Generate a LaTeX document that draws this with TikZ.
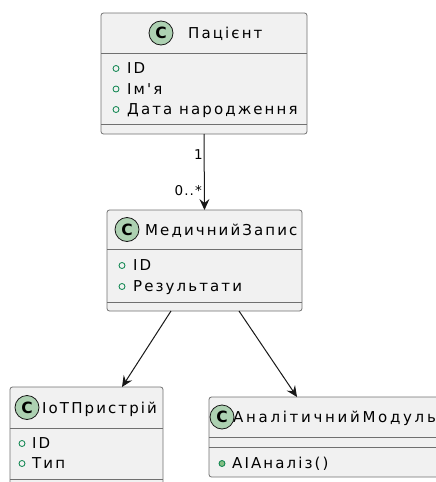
\documentclass[tikz,border=0pt]{standalone}
\usepackage{fontspec}
\setmainfont{DejaVu Sans}
\newfontfamily\umlfont[LetterSpace=14]{DejaVu Sans}
\newfontfamily\widefont[LetterSpace=18]{DejaVu Sans}
\newfontfamily\multfont[LetterSpace=8]{DejaVu Sans}
\usetikzlibrary{arrows.meta,calc}
\definecolor{boxfill}{HTML}{F1F1F1}
\definecolor{boxline}{HTML}{707070}
\definecolor{badge}{HTML}{ADD1B2}
\definecolor{markgreen}{HTML}{038048}
\definecolor{markfill}{HTML}{84BE84}
\definecolor{linkcol}{HTML}{181818}
\newcommand{\cname}{\umlfont\fontsize{15}{17}\selectfont}
\newcommand{\wname}{\widefont\fontsize{15}{17}\selectfont}
\newcommand{\mname}{\multfont\fontsize{13.5}{15}\selectfont}
\begin{document}
\begin{tikzpicture}[x=1pt,y=-1pt,
  classbox/.style={draw=boxline, fill=boxfill, line width=0.8pt, rounded corners=2.5pt,
    anchor=north west, inner sep=0pt, outer sep=0pt},
  sep/.style={draw=boxline, line width=0.8pt},
  badgec/.style={circle, draw=linkcol, fill=badge, line width=0.8pt, minimum size=24pt,
    inner sep=0pt, font=\bfseries\fontsize{15.5}{15.5}\selectfont},
  title/.style={anchor=base west, inner sep=0pt, font=\cname},
  attr/.style={anchor=base west, inner sep=0pt, font=\cname},
  field/.style={circle, draw=markgreen, line width=0.8pt, minimum size=6pt, inner sep=0pt},
  method/.style={field, fill=markfill},
  link/.style={draw=linkcol, line width=1pt, -{Stealth[length=11pt,width=10pt,inset=4pt]}},
  mult/.style={anchor=base east, inner sep=0pt, font=\mname}
]
\useasboundingbox (0,0) rectangle (436,482);
\clip (0,0) rectangle (436,482);

% Пацієнт
\node[classbox, minimum width=206pt, minimum height=121pt] (pac) at (101,13) {};
\draw[sep] (101,53) -- (307,53);
\draw[sep] (101,124) -- (307,124);
\node[badgec] (pacC) at (161,33) {C};
\node[title] (pacT) at (188,38.5) {Пацієнт};
\node[field] (pacm1) at (116,68.5) {};
\node[attr] (paca1) at (127,73.5) {ID};
\node[field] (pacm2) at (116,89) {};
\node[attr] (paca2) at (127,94) {Ім'я};
\node[field] (pacm3) at (116,109.5) {};
\node[attr] (paca3) at (127,114.5) {Дата народження};

% МедичнийЗапис
\node[classbox, minimum width=195pt, minimum height=101pt] (mz) at (107,210) {};
\draw[sep] (107,249) -- (302,249);
\draw[sep] (107,302) -- (302,302);
\node[badgec] (mzC) at (127,229.5) {C};
\node[title] (mzT) at (145,235) {МедичнийЗапис};
\node[field] (mzm1) at (122,265.5) {};
\node[attr] (mza1) at (133,270.5) {ID};
\node[field] (mzm2) at (122,286.5) {};
\node[attr] (mza2) at (133,291.5) {Результати};

% IoTПристрій
\node[classbox, minimum width=153pt, minimum height=105pt] (iot) at (10,387) {};
\draw[sep] (10,428) -- (163,428);
\draw[sep] (10,479) -- (163,479);
\node[badgec] (iotC) at (27,407.5) {C};
\node[title] (iotT) at (42,413) {IoTПристрій};
\node[field] (iotm1) at (22,443.5) {};
\node[attr] (iota1) at (32,448.5) {ID};
\node[field] (iotm2) at (22,463.5) {};
\node[attr] (iota2) at (32,468.5) {Тип};

% АналітичнийМодуль (runs past the right edge)
\node[classbox, minimum width=240pt, minimum height=80pt] (am) at (209,397) {};
\draw[sep] (209,437) -- (449,437);
\draw[sep] (209,447) -- (449,447);
\node[badgec] (amC) at (222,417) {C};
\node[title, font=\wname] (amT) at (233,422.5) {АналітичнийМодуль};
\node[method] (amm1) at (222,463.5) {};
\node[attr] (ama1) at (232,468.5) {AIАналіз()};

% associations
\draw[link] (pac.south) -- (mz.north);
\node[mult] (m1) at (203,159) {1};
\node[mult] (m2) at (202,195) {0..*};
\draw[link] ([xshift=-33.5pt]mz.south) -- ([xshift=-41pt]iot.north east);
\draw[link] ([xshift=34.5pt]mz.south) -- ([xshift=88pt]am.north west);
\end{tikzpicture}
\end{document}
